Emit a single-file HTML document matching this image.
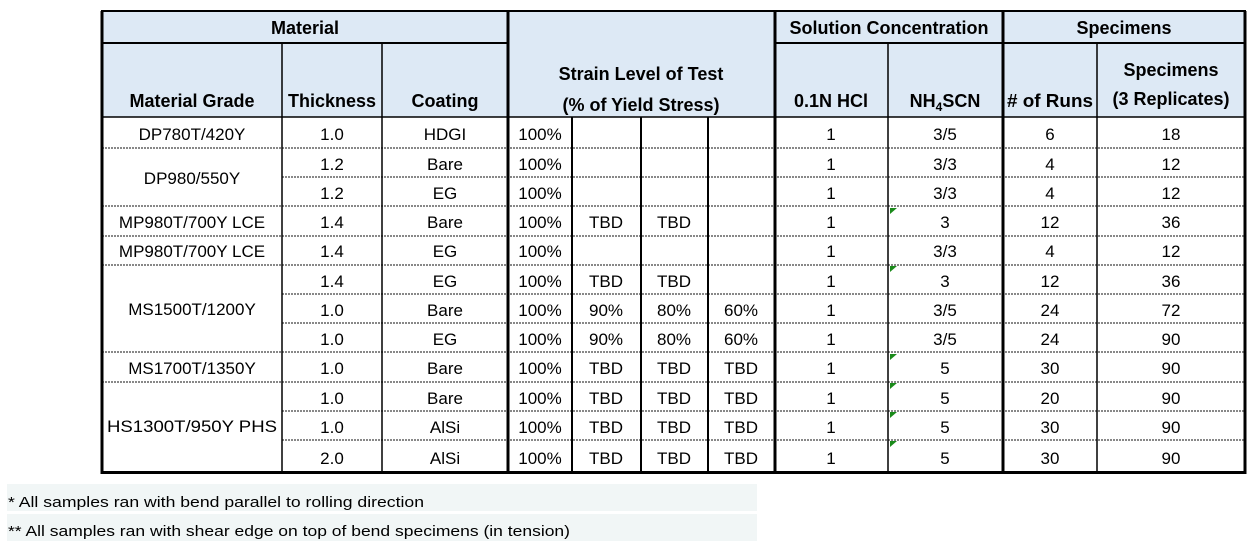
<!DOCTYPE html>
<html><head><meta charset="utf-8"><style>
html,body{margin:0;padding:0;background:#fff;width:1252px;height:548px;overflow:hidden}
svg text{font-family:"Liberation Sans",sans-serif;font-size:17px;fill:#000}
.b{font-weight:bold;font-size:18px}
.fn{font-size:15px}
</style></head><body>
<svg width="1252" height="548" xmlns="http://www.w3.org/2000/svg">
<rect x="102" y="11" width="1143" height="106" fill="#dde9f5"/>
<rect x="7" y="484" width="750" height="27" fill="#f1f6f6"/>
<rect x="7" y="514" width="750" height="27" fill="#f1f6f6"/>
<g stroke="#888" stroke-width="2" stroke-dasharray="2,1">
<line x1="102" y1="148" x2="1245" y2="148"/>
<line x1="282" y1="177" x2="1245" y2="177"/>
<line x1="102" y1="206" x2="1245" y2="206"/>
<line x1="102" y1="236" x2="1245" y2="236"/>
<line x1="102" y1="265" x2="1245" y2="265"/>
<line x1="282" y1="294" x2="1245" y2="294"/>
<line x1="282" y1="323" x2="1245" y2="323"/>
<line x1="102" y1="352" x2="1245" y2="352"/>
<line x1="102" y1="382" x2="1245" y2="382"/>
<line x1="282" y1="411" x2="1245" y2="411"/>
<line x1="282" y1="440" x2="1245" y2="440"/>
</g>
<g stroke="#000">
<line x1="101" y1="11" x2="1246" y2="11" stroke-width="2"/>
<line x1="102" y1="43" x2="508" y2="43" stroke-width="2"/>
<line x1="775" y1="43" x2="1245" y2="43" stroke-width="2"/>
<line x1="102" y1="117" x2="1245" y2="117" stroke-width="1.5"/>
<line x1="101" y1="472.5" x2="1246" y2="472.5" stroke-width="3"/>
</g>
<g stroke="#000">
<line x1="102" y1="11" x2="102" y2="474" stroke-width="3"/>
<line x1="508" y1="11" x2="508" y2="474" stroke-width="3"/>
<line x1="775" y1="11" x2="775" y2="474" stroke-width="3"/>
<line x1="1003" y1="11" x2="1003" y2="474" stroke-width="3"/>
<line x1="1245" y1="11" x2="1245" y2="474" stroke-width="3"/>
<line x1="282" y1="43" x2="282" y2="474" stroke-width="1.5"/>
<line x1="382" y1="43" x2="382" y2="474" stroke-width="1.5"/>
<line x1="888" y1="43" x2="888" y2="474" stroke-width="1.5"/>
<line x1="1097" y1="43" x2="1097" y2="474" stroke-width="1.5"/>
<line x1="572" y1="117" x2="572" y2="474" stroke-width="2"/>
<line x1="641" y1="117" x2="641" y2="474" stroke-width="2"/>
<line x1="708" y1="117" x2="708" y2="474" stroke-width="2"/>
</g>
<g fill="#1a8a1a">
<polygon points="890,208 897,208 890,214"/>
<polygon points="890,266 897,266 890,272"/>
<polygon points="890,354 897,354 890,360"/>
<polygon points="890,383 897,383 890,389"/>
<polygon points="890,412 897,412 890,418"/>
<polygon points="890,441 897,441 890,447"/>
</g>
<g text-anchor="middle">
<text x="305" y="34" class="b">Material</text>
<text x="889" y="34" class="b">Solution Concentration</text>
<text x="1124" y="34" class="b">Specimens</text>
<text x="641" y="80" class="b">Strain Level of Test</text>
<text x="641" y="111" class="b">(% of Yield Stress)</text>
<text x="192" y="107" class="b">Material Grade</text>
<text x="332" y="107" class="b" textLength="88" lengthAdjust="spacingAndGlyphs">Thickness</text>
<text x="445" y="107" class="b">Coating</text>
<text x="831" y="107" class="b">0.1N HCl</text>
<text x="945" y="107" class="b">NH<tspan font-size="12" dy="4">4</tspan><tspan dy="-4">SCN</tspan></text>
<text x="1050" y="107" class="b" textLength="86" lengthAdjust="spacingAndGlyphs"># of Runs</text>
<text x="1171" y="76" class="b">Specimens</text>
<text x="1171" y="105" class="b">(3 Replicates)</text>
</g>
<g text-anchor="middle">
<text x="192" y="140">DP780T/420Y</text>
<text x="192" y="184">DP980/550Y</text>
<text x="192" y="228">MP980T/700Y LCE</text>
<text x="192" y="257">MP980T/700Y LCE</text>
<text x="192" y="315">MS1500T/1200Y</text>
<text x="192" y="374">MS1700T/1350Y</text>
<text x="192" y="432" textLength="170" lengthAdjust="spacingAndGlyphs">HS1300T/950Y PHS</text>
</g>
<g text-anchor="middle">
<text x="332" y="140">1.0</text><text x="445" y="140">HDGI</text><text x="540" y="140">100%</text><text x="831" y="140">1</text><text x="945" y="140">3/5</text><text x="1050" y="140">6</text><text x="1171" y="140">18</text>
<text x="332" y="170">1.2</text><text x="445" y="170">Bare</text><text x="540" y="170">100%</text><text x="831" y="170">1</text><text x="945" y="170">3/3</text><text x="1050" y="170">4</text><text x="1171" y="170">12</text>
<text x="332" y="199">1.2</text><text x="445" y="199">EG</text><text x="540" y="199">100%</text><text x="831" y="199">1</text><text x="945" y="199">3/3</text><text x="1050" y="199">4</text><text x="1171" y="199">12</text>
<text x="332" y="228">1.4</text><text x="445" y="228">Bare</text><text x="540" y="228">100%</text><text x="606" y="228">TBD</text><text x="674" y="228">TBD</text><text x="831" y="228">1</text><text x="945" y="228">3</text><text x="1050" y="228">12</text><text x="1171" y="228">36</text>
<text x="332" y="257">1.4</text><text x="445" y="257">EG</text><text x="540" y="257">100%</text><text x="831" y="257">1</text><text x="945" y="257">3/3</text><text x="1050" y="257">4</text><text x="1171" y="257">12</text>
<text x="332" y="287">1.4</text><text x="445" y="287">EG</text><text x="540" y="287">100%</text><text x="606" y="287">TBD</text><text x="674" y="287">TBD</text><text x="831" y="287">1</text><text x="945" y="287">3</text><text x="1050" y="287">12</text><text x="1171" y="287">36</text>
<text x="332" y="316">1.0</text><text x="445" y="316">Bare</text><text x="540" y="316">100%</text><text x="606" y="316">90%</text><text x="674" y="316">80%</text><text x="741" y="316">60%</text><text x="831" y="316">1</text><text x="945" y="316">3/5</text><text x="1050" y="316">24</text><text x="1171" y="316">72</text>
<text x="332" y="345">1.0</text><text x="445" y="345">EG</text><text x="540" y="345">100%</text><text x="606" y="345">90%</text><text x="674" y="345">80%</text><text x="741" y="345">60%</text><text x="831" y="345">1</text><text x="945" y="345">3/5</text><text x="1050" y="345">24</text><text x="1171" y="345">90</text>
<text x="332" y="374">1.0</text><text x="445" y="374">Bare</text><text x="540" y="374">100%</text><text x="606" y="374">TBD</text><text x="674" y="374">TBD</text><text x="741" y="374">TBD</text><text x="831" y="374">1</text><text x="945" y="374">5</text><text x="1050" y="374">30</text><text x="1171" y="374">90</text>
<text x="332" y="404">1.0</text><text x="445" y="404">Bare</text><text x="540" y="404">100%</text><text x="606" y="404">TBD</text><text x="674" y="404">TBD</text><text x="741" y="404">TBD</text><text x="831" y="404">1</text><text x="945" y="404">5</text><text x="1050" y="404">20</text><text x="1171" y="404">90</text>
<text x="332" y="433">1.0</text><text x="445" y="433">AlSi</text><text x="540" y="433">100%</text><text x="606" y="433">TBD</text><text x="674" y="433">TBD</text><text x="741" y="433">TBD</text><text x="831" y="433">1</text><text x="945" y="433">5</text><text x="1050" y="433">30</text><text x="1171" y="433">90</text>
<text x="332" y="464">2.0</text><text x="445" y="464">AlSi</text><text x="540" y="464">100%</text><text x="606" y="464">TBD</text><text x="674" y="464">TBD</text><text x="741" y="464">TBD</text><text x="831" y="464">1</text><text x="945" y="464">5</text><text x="1050" y="464">30</text><text x="1171" y="464">90</text>
</g>
<text x="8" y="507" class="fn" textLength="416" lengthAdjust="spacingAndGlyphs">*  All samples ran with bend parallel to rolling direction</text>
<text x="8" y="536" class="fn" textLength="562" lengthAdjust="spacingAndGlyphs">**  All samples ran with shear edge on top of bend specimens (in tension)</text>
</svg>
</body></html>
